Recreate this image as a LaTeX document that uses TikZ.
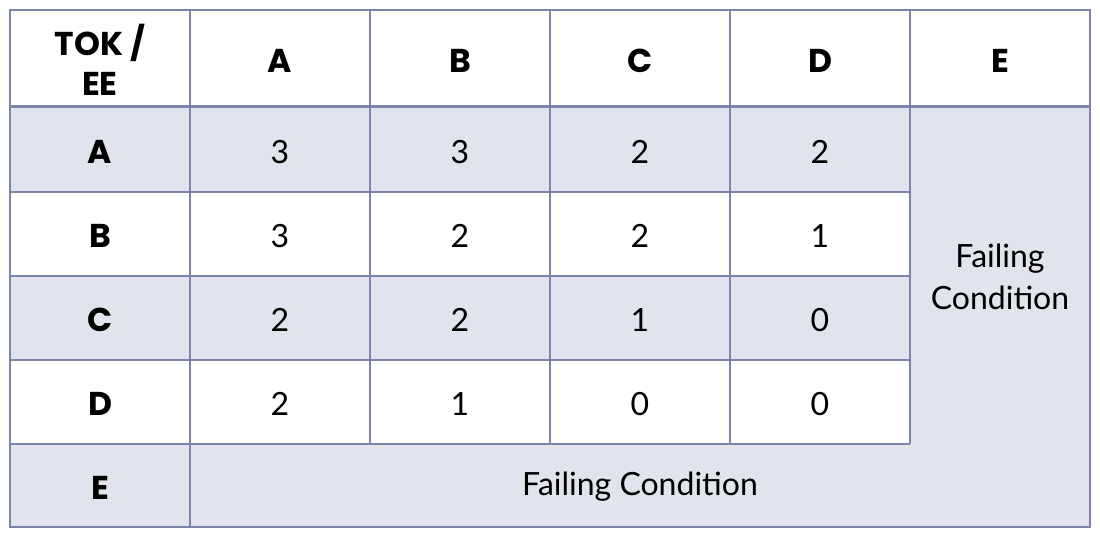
\documentclass[tikz,border=0pt]{standalone}
\usepackage{fontspec}
\setmainfont{Lato}
\newfontfamily\headfont{Poppins}[BoldFont={* Bold}]
\definecolor{gridc}{HTML}{7C84AC}
\definecolor{cellg}{HTML}{E1E4EC}
\tikzset{
  hd/.style={font=\headfont\bfseries\fontsize{33}{40}\selectfont, align=center, text=black},
  val/.style={font=\fontsize{32}{42}\selectfont, align=center, text=black},
  gline/.style={draw=gridc, line width=1.6pt},
}
\begin{document}
\begin{tikzpicture}[x=1pt,y=-1pt]
\useasboundingbox (0,0) rectangle (1100,537);
\fill[white] (0,0) rectangle (1100,537);
% shaded areas
\fill[cellg] (10,107) rectangle (910,192);
\fill[cellg] (10,276) rectangle (910,360);
\fill[cellg] (910,107) rectangle (1090,527);
\fill[cellg] (10,444) rectangle (1090,527);
% grid lines
\draw[gline] (190,10) -- (190,527);
\foreach \x in {370,550,730} \draw[gline] (\x,10) -- (\x,444);
\draw[gline] (910,10) -- (910,444);
\foreach \y in {192,276,360} \draw[gline] (10,\y) -- (910,\y);
\draw[gline] (10,444) -- (910,444);
\draw[draw=gridc, line width=3pt] (10,107) -- (1090,107);
\draw[draw=gridc, line width=2pt] (10,10) rectangle (1090,527);
% header
\node[hd] (h0) at (100,60) {TOK /\\EE};
\node[hd] (hA) at (280,61) {A};
\node[hd] (hB) at (460,61) {B};
\node[hd] (hC) at (640,61) {C};
\node[hd] (hD) at (820,61) {D};
\node[hd] (hE) at (1000,61) {E};
% row labels
\node[hd] (rA) at (100,152) {A};
\node[hd] (rB) at (100,236) {B};
\node[hd] (rC) at (100,320) {C};
\node[hd] (rD) at (100,404) {D};
\node[hd] (rE) at (100,488) {E};
% values
\node[val] (aA) at (280,152) {3};
\node[val] (aB) at (460,152) {3};
\node[val] (aC) at (640,152) {2};
\node[val] (aD) at (820,152) {2};
\node[val] (bA) at (280,236) {3};
\node[val] (bB) at (460,236) {2};
\node[val] (bC) at (640,236) {2};
\node[val] (bD) at (820,236) {1};
\node[val] (cA) at (280,320) {2};
\node[val] (cB) at (460,320) {2};
\node[val] (cC) at (640,320) {1};
\node[val] (cD) at (820,320) {0};
\node[val] (dA) at (280,404) {2};
\node[val] (dB) at (460,404) {1};
\node[val] (dC) at (640,404) {0};
\node[val] (dD) at (820,404) {0};
\node[val] (fE) at (1000,277) {Failing\\Condition};
\node[val] (fR) at (640,487) {Failing Condition};
\end{tikzpicture}
\end{document}
